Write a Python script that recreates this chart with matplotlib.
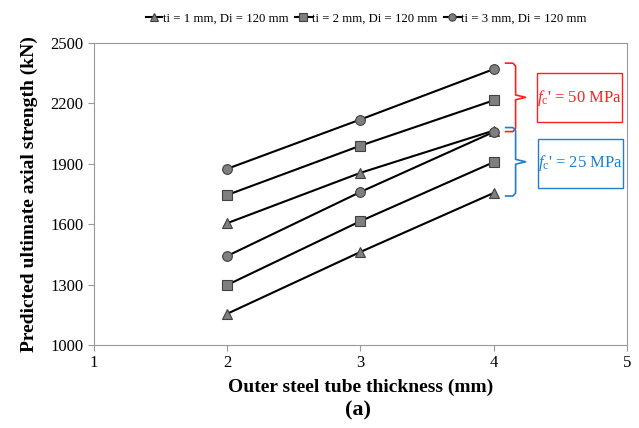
import matplotlib
matplotlib.use("Agg")
import matplotlib.pyplot as plt
from matplotlib.patches import Rectangle

plt.rcParams['font.family'] = ['Liberation Serif', 'DejaVu Serif']
plt.rcParams['mathtext.fontset'] = 'custom'
plt.rcParams['mathtext.rm'] = 'Liberation Serif'
plt.rcParams['mathtext.it'] = 'Liberation Serif:italic'

thickness = [2, 3, 4]
# fc' = 50 MPa
c50_ti1 = [1605, 1855, 2065]
c50_ti2 = [1745, 1990, 2215]
c50_ti3 = [1875, 2120, 2370]
# fc' = 25 MPa
c25_ti1 = [1155, 1462, 1755]
c25_ti2 = [1298, 1615, 1908]
c25_ti3 = [1442, 1760, 2058]

labels = ["ti = 1 mm, Di = 120 mm", "ti = 2 mm, Di = 120 mm", "ti = 3 mm, Di = 120 mm"]
markers = ["^", "s", "o"]

fig = plt.figure(figsize=(6.39, 4.28), dpi=100)
ax = fig.add_axes([0.147, 0.194, 0.834, 0.7055])

mk = dict(color="black", lw=1.5, markersize=7, markerfacecolor="#7f7f7f",
          markeredgecolor="#404040", markeredgewidth=0.8)
handles = []
for ys, m, lab in zip([c50_ti1, c50_ti2, c50_ti3], markers, labels):
    h, = ax.plot(thickness, ys, marker=m, label=lab, **mk)
    handles.append(h)
for ys, m in zip([c25_ti1, c25_ti2, c25_ti3], markers):
    ax.plot(thickness, ys, marker=m, **mk)

ax.set_xlim(1, 5)
ax.set_ylim(1000, 2500)
ax.set_xticks([1, 2, 3, 4, 5])
ax.set_yticks([1000, 1300, 1600, 1900, 2200, 2500])
for s in ax.spines.values():
    s.set_color("#999999")
ax.tick_params(direction="out", labelsize=12, length=4, color="#999999", labelcolor="black")

ax.set_xlabel("Outer steel tube thickness (mm)", fontsize=14, fontweight="bold", labelpad=5)
ax.set_ylabel("Predicted ultimate axial strength (kN)", fontsize=14, fontweight="bold", labelpad=9)
fig.text(0.56, 0.04, "(a)", fontsize=16, fontweight="bold", ha="center", va="center")

fig.legend(handles=handles, loc="center", bbox_to_anchor=(0.573, 0.957), ncol=3,
           frameon=False, fontsize=9.2, handlelength=1.3, handletextpad=0.05,
           columnspacing=0.5, markerscale=0.75)


def brace(x0, x1, x2, ytop, ybot, color):
    ymid = (ytop + ybot) / 2
    xs = [x0, x1 - 0.02, x1, x1, x2, x1, x1, x1 - 0.02, x0]
    ys = [ytop, ytop, ytop - 15, ymid + 12, ymid, ymid - 12, ybot + 15, ybot, ybot]
    ax.plot(xs, ys, color=color, lw=1.2, clip_on=False)


brace(4.09, 4.165, 4.24, 2400, 2060, "#ff2020")
brace(4.09, 4.165, 4.24, 2080, 1740, "#1f7fcf")

fig.add_artist(Rectangle((0.840, 0.715), 0.133, 0.1145, transform=fig.transFigure,
                         fill=False, edgecolor="#ff2020", lw=1.0))
fig.add_artist(Rectangle((0.842, 0.561), 0.133, 0.1145, transform=fig.transFigure,
                         fill=False, edgecolor="#1f7fcf", lw=1.0))
fig.text(0.907, 0.772, r"$\mathit{f}_{\mathrm{c}}$' = 50 MPa", color="#ff2020",
         fontsize=12, ha="center", va="center")
fig.text(0.908, 0.618, r"$\mathit{f}_{\mathrm{c}}$' = 25 MPa", color="#1f7fcf",
         fontsize=12, ha="center", va="center")

fig.savefig("out.png", dpi=100)
